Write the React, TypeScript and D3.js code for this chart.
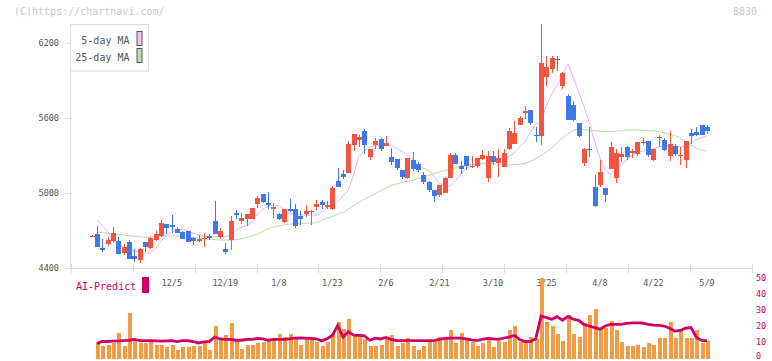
import React from "react";
import * as d3 from "d3";

// date labels sit under every 10th candle
const dateLabels = ["12/5", "12/19", "1/8", "1/23", "2/6", "2/21", "3/10", "3/25", "4/8", "4/22", "5/9"];
const dateIdx = [15, 25, 35, 45, 55, 65, 75, 85, 95, 105, 115];
const priceTicks = [4400, 5000, 5600, 6200];
const aiTicks = [0, 10, 20, 30, 40, 50];

const opens = [
  4650, 4672, 4558, 4590, 4614, 4614, 4518, 4606, 4494, 4464,
  4606, 4560, 4624, 4654, 4750, 4742, 4710, 4686, 4691, 4638,
  4616, 4632, 4656, 4774, 4648, 4550, 4622, 4840, 4776, 4792,
  4792, 4912, 4990, 4918, 4872, 4830, 4766, 4870, 4870, 4814,
  4830, 4846, 4886, 4926, 4886, 4870, 5094, 5150, 5158, 5382,
  5424, 5494, 5288, 5382, 5430, 5374, 5286, 5270, 5182, 5118,
  5262, 5230, 5142, 5086, 5022, 4982, 4998, 5118, 5302, 5214,
  5294, 5208, 5216, 5270, 5120, 5294, 5240, 5208, 5350, 5392,
  5544, 5640, 5662, 5462, 5456, 5926, 5990, 6070, 5854, 5774,
  5702, 5558, 5238, 5350, 5046, 5062, 5038, 5190, 5118, 5286,
  5366, 5318, 5310, 5398, 5414, 5262, 5438, 5422, 5294, 5374,
  5294, 5262, 5478, 5486, 5542, 5526,
];
const highs = [
  4658, 4733, 4629, 4648, 4726, 4646, 4590, 4622, 4550, 4560,
  4606, 4648, 4691, 4779, 4750, 4822, 4728, 4696, 4691, 4648,
  4659, 4680, 4670, 4936, 4715, 4600, 4814, 4862, 4838, 4830,
  4878, 4974, 4990, 5006, 4918, 4838, 4870, 4950, 4910, 4854,
  4902, 4862, 4942, 4942, 4934, 5054, 5198, 5182, 5414, 5470,
  5462, 5510, 5350, 5435, 5438, 5454, 5358, 5270, 5182, 5278,
  5326, 5246, 5166, 5094, 5022, 5062, 5126, 5318, 5318, 5254,
  5294, 5294, 5278, 5342, 5334, 5334, 5352, 5350, 5518, 5574,
  5614, 5694, 5662, 5526, 6350, 6094, 6094, 6094, 5966, 5790,
  5734, 5558, 5358, 5526, 5142, 5262, 5038, 5406, 5350, 5366,
  5374, 5350, 5406, 5438, 5414, 5350, 5462, 5438, 5494, 5390,
  5366, 5414, 5510, 5526, 5542, 5542,
];
const lows = [
  4648, 4568, 4526, 4576, 4600, 4512, 4499, 4472, 4446, 4440,
  4528, 4547, 4616, 4648, 4667, 4675, 4675, 4630, 4608, 4582,
  4603, 4568, 4622, 4672, 4627, 4507, 4542, 4787, 4750, 4736,
  4792, 4880, 4915, 4872, 4800, 4782, 4760, 4848, 4720, 4742,
  4808, 4744, 4864, 4870, 4870, 4862, 5046, 5110, 5158, 5336,
  5366, 5310, 5264, 5350, 5334, 5374, 5219, 5182, 5107, 5107,
  5174, 5166, 5070, 5003, 4926, 4966, 4998, 5118, 5230, 5150,
  5184, 5200, 5200, 5262, 5088, 5224, 5128, 5208, 5342, 5392,
  5544, 5592, 5544, 5406, 5382, 5854, 5958, 5974, 5830, 5582,
  5574, 5446, 5214, 5286, 4886, 5043, 4926, 5190, 5078, 5246,
  5262, 5278, 5294, 5382, 5286, 5254, 5366, 5334, 5254, 5294,
  5222, 5198, 5390, 5454, 5462, 5470,
];
const closes = [
  4655, 4568, 4542, 4622, 4678, 4512, 4566, 4472, 4472, 4547,
  4566, 4635, 4670, 4757, 4720, 4723, 4680, 4630, 4608, 4616,
  4630, 4640, 4640, 4672, 4694, 4522, 4774, 4824, 4798, 4830,
  4878, 4958, 4928, 4904, 4886, 4790, 4870, 4856, 4734, 4790,
  4854, 4851, 4910, 4902, 4902, 5038, 5046, 5123, 5390, 5470,
  5446, 5384, 5350, 5414, 5350, 5398, 5246, 5198, 5123, 5278,
  5190, 5182, 5086, 5019, 4974, 5062, 5118, 5302, 5230, 5190,
  5216, 5216, 5278, 5302, 5294, 5248, 5278, 5318, 5494, 5478,
  5598, 5654, 5560, 5456, 6038, 6006, 6078, 6062, 5958, 5582,
  5582, 5454, 5350, 5340, 4894, 5166, 4982, 5366, 5318, 5310,
  5286, 5334, 5406, 5406, 5302, 5350, 5446, 5342, 5390, 5310,
  5302, 5414, 5454, 5462, 5462, 5494,
];

// the MA lines, volume and AI-Predict start from the 2nd candle
const ma5 = [
  4782, 4740, 4690, 4620, 4582, 4562, 4550, 4535, 4520, 4515,
  4520, 4550, 4610, 4660, 4688, 4705, 4707, 4695, 4675, 4662,
  4652, 4648, 4648, 4648, 4648, 4660, 4700, 4722, 4740, 4760,
  4830, 4870, 4890, 4902, 4895, 4866, 4838, 4825, 4822, 4822,
  4822, 4822, 4846, 4885, 4910, 4930, 4975, 5020, 5150, 5290,
  5340, 5368, 5378, 5382, 5380, 5375, 5355, 5330, 5305, 5262,
  5220, 5195, 5180, 5130, 5075, 5058, 5054, 5095, 5150, 5195,
  5225, 5225, 5230, 5232, 5245, 5265, 5280, 5288, 5320, 5365,
  5410, 5480, 5550, 5560, 5700, 5790, 5860, 5945, 6030, 5925,
  5810, 5690, 5560, 5410, 5280, 5180, 5150, 5185, 5230, 5262,
  5300, 5325, 5332, 5342, 5352, 5368, 5372, 5375, 5372, 5368,
  5372, 5400, 5425, 5440, 5456,
];
const ma25 = [
  4683, 4680, 4676, 4672, 4668, 4662, 4656, 4652, 4647, 4644,
  4646, 4652, 4655, 4655, 4655, 4654, 4650, 4645, 4642, 4638,
  4632, 4628, 4624, 4622, 4621, 4621, 4624, 4632, 4643, 4656,
  4668, 4690, 4710, 4725, 4735, 4742, 4748, 4752, 4754, 4755,
  4757, 4760, 4780, 4795, 4810, 4828, 4845, 4868, 4895, 4922,
  4950, 4970, 4992, 5015, 5040, 5058, 5070, 5082, 5090, 5100,
  5114, 5125, 5140, 5152, 5166, 5178, 5188, 5198, 5212, 5222,
  5230, 5235, 5236, 5236, 5234, 5230, 5225, 5222, 5225, 5228,
  5235, 5250, 5272, 5295, 5325, 5360, 5400, 5440, 5470, 5500,
  5508, 5505, 5500, 5496, 5490, 5488, 5490, 5494, 5496, 5500,
  5502, 5502, 5500, 5497, 5494, 5488, 5480, 5468, 5458, 5440,
  5405, 5380, 5358, 5342, 5332,
];
const volume = [
  9.1, 7.8, 8.4, 9.4, 15.9, 7.8, 28.4, 10.5, 9.4, 9.1,
  9.8, 8.4, 8.4, 6.6, 8.4, 5.3, 7.0, 6.6, 7.4, 7.8,
  9.1, 4.7, 19.7, 11.6, 14.1, 21.6, 10.9, 5.9, 8.4, 8.4,
  9.1, 10.3, 11.6, 11.6, 15.3, 13.4, 14.7, 11.6, 8.4, 11.6,
  11.6, 9.7, 7.2, 9.7, 15.3, 22.2, 18.4, 24.1, 15.3, 14.7,
  11.6, 7.8, 7.8, 8.4, 11.6, 14.1, 7.8, 9.1, 12.8, 7.2,
  5.3, 7.8, 10.3, 10.3, 13.4, 11.6, 17.8, 9.1, 15.9, 11.6,
  10.3, 7.8, 9.1, 11.6, 6.6, 10.9, 9.7, 17.2, 20.3, 10.3,
  10.3, 13.4, 11.6, 49.7, 22.8, 20.3, 15.3, 10.9, 26.6, 14.7,
  13.4, 21.6, 26.6, 30.9, 19.0, 19.0, 23.3, 17.8, 10.3, 7.8,
  7.8, 8.4, 6.6, 9.1, 8.4, 12.8, 12.2, 22.2, 12.8, 16.6,
  12.8, 12.8, 17.8, 9.1, 10.9,
];
const aiPredict = [
  9.1, 10.3, 10.3, 10.5, 10.7, 10.9, 11.1, 11.6, 10.9, 10.9,
  10.9, 10.7, 10.5, 10.7, 10.9, 10.3, 10.9, 10.9, 10.3, 9.4,
  10.1, 10.3, 13.1, 12.0, 11.6, 11.6, 11.1, 11.1, 11.6, 11.6,
  12.2, 12.0, 11.1, 11.6, 11.6, 11.6, 12.0, 12.4, 12.6, 12.4,
  12.2, 12.0, 10.7, 12.0, 14.1, 20.3, 13.1, 16.4, 14.3, 14.1,
  13.9, 11.1, 12.4, 11.9, 12.8, 11.6, 10.9, 10.9, 10.9, 10.9,
  10.9, 10.9, 10.9, 10.9, 11.6, 12.2, 12.4, 12.4, 12.4, 12.0,
  11.3, 10.9, 11.6, 12.2, 12.0, 11.6, 12.4, 13.1, 14.1, 11.6,
  10.3, 10.3, 12.0, 26.2, 25.2, 24.2, 25.8, 23.5, 26.0, 24.2,
  23.5, 21.0, 20.0, 19.0, 18.0, 20.0, 21.0, 21.0, 21.0, 21.6,
  22.0, 22.0, 21.8, 21.0, 20.6, 20.4, 20.0, 18.6, 16.8, 17.2,
  18.6, 19.0, 13.0, 11.0, 10.8,
];

const FONT = "'DejaVu Sans Mono', 'Liberation Mono', monospace";
const UP = "#f05540";
const DOWN = "#3f78ea";
const AI = "#cc0066";

export default function App() {
  const width = 772;
  const height = 361;

  const x = d3.scaleLinear().domain([0, 115]).range([91.5, 707]);
  const y = d3.scaleLinear().domain([4400, 6200]).range([267.7, 42.7]);
  const yv = d3.scaleLinear().domain([0, 50]).range([358, 278]);
  const gridX = d3.scaleLinear().domain([0, 11]).range([70.7, 752]);

  const priceLine = d3
    .line<number>()
    .x((d, i) => x(i + 1))
    .y((d) => y(d));
  const aiLine = d3
    .line<number>()
    .x((d, i) => x(i + 1))
    .y((d) => yv(d));

  return (
    <svg
      width={width}
      height={height}
      style={{ position: "absolute", left: 0, top: 0, background: "#fff" }}
      fontFamily={FONT}
    >
      <text x={14} y={15} fontSize={10} fill="#c8c8c8">
        (C)https://chartnavi.com/
      </text>
      <text x={757} y={15} fontSize={10} fill="#c8c8c8" textAnchor="end">
        8830
      </text>

      {/* price axis */}
      <g shapeRendering="crispEdges">
        <line x1={70.5} x2={70.5} y1={24} y2={268} stroke="#ddd" />
        <line x1={70.5} x2={752} y1={268.5} y2={268.5} stroke="#ddd" />
        {d3.range(12).map((k) => (
          <line
            key={k}
            x1={Math.round(gridX(k)) + 0.5}
            x2={Math.round(gridX(k)) + 0.5}
            y1={264}
            y2={273}
            stroke="#ddd"
          />
        ))}
        {priceTicks.map((t) => (
          <line key={t} x1={65} x2={72} y1={Math.round(y(t)) + 0.5} y2={Math.round(y(t)) + 0.5} stroke="#ddd" />
        ))}
      </g>
      {priceTicks.map((t) => (
        <text key={t} x={59} y={y(t) + 3} fontSize={8.5} fill="#555" textAnchor="end">
          {t}
        </text>
      ))}
      {dateLabels.map((d, k) => (
        <text key={d} x={x(dateIdx[k])} y={285.5} fontSize={8.5} fill="#555" textAnchor="middle">
          {d}
        </text>
      ))}

      {/* moving averages */}
      <path d={priceLine(ma25) ?? ""} fill="none" stroke="#b8dca8" strokeWidth={1} />
      <path d={priceLine(ma5) ?? ""} fill="none" stroke="#e8b4ee" strokeWidth={1} />

      {/* candles */}
      <g shapeRendering="crispEdges">
        {closes.map((c, i) => {
          const o = opens[i];
          const cx = Math.round(x(i));
          const col = c >= o ? UP : DOWN;
          const top = y(Math.max(o, c));
          const h = Math.max(1, Math.abs(y(o) - y(c)));
          return (
            <g key={i}>
              <line x1={cx + 0.5} x2={cx + 0.5} y1={y(highs[i])} y2={y(lows[i])} stroke={col} />
              <rect x={cx - 2} y={top} width={5} height={h} fill={col} />
            </g>
          );
        })}
      </g>

      {/* legend */}
      <rect x={70.5} y={24.5} width={78} height={46.5} fill="#fff" stroke="#ddd" />
      <text x={129.5} y={44} fontSize={10} fill="#555" textAnchor="end">
        5-day MA
      </text>
      <text x={129.5} y={61} fontSize={10} fill="#555" textAnchor="end">
        25-day MA
      </text>
      <rect x={137} y={31.5} width={5} height={14} fill="#f0c0f0" stroke="#555" />
      <rect x={137} y={48.5} width={5} height={14} fill="#c0e0b0" stroke="#555" />

      {/* volume + AI predict */}
      <text x={76} y={290} fontSize={10} fill={AI}>
        AI-Predict
      </text>
      <rect x={142} y={277} width={7} height={16} fill={AI} />
      <g shapeRendering="crispEdges">
        {volume.map((v, k) => (
          <rect
            key={k}
            x={Math.round(x(k + 1)) - 1.5}
            y={yv(v)}
            width={4}
            height={yv(0) + 1 - yv(v)}
            fill="#f29a44"
          />
        ))}
      </g>
      <path d={aiLine(aiPredict) ?? ""} fill="none" stroke={AI} strokeWidth={2.8} strokeLinejoin="miter" />
      {aiTicks.map((t) => (
        <text key={t} x={756} y={Math.min(yv(t) + 3, 358.5)} fontSize={8.5} fill={AI}>
          {t}
        </text>
      ))}
    </svg>
  );
}
